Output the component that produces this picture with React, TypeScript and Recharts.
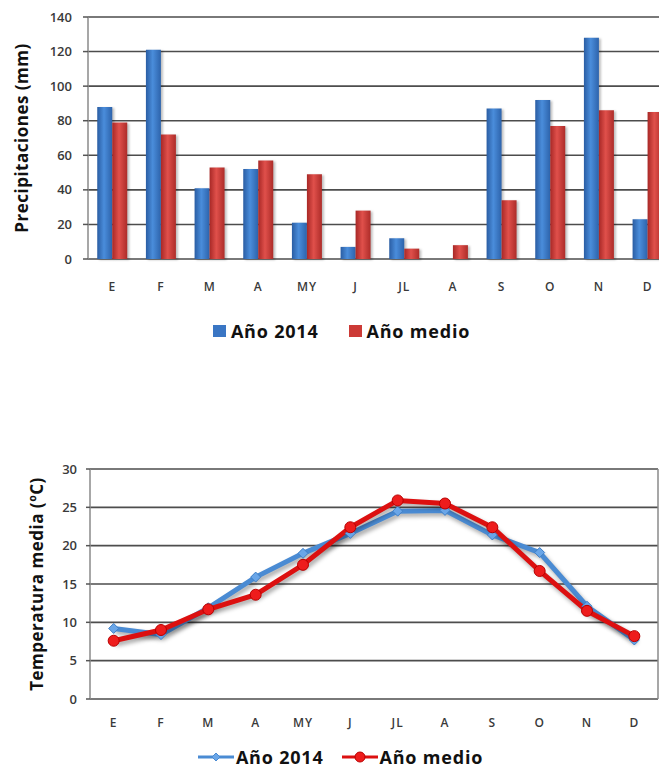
import React from "react";
import {
  Bar,
  BarChart,
  CartesianGrid,
  ComposedChart,
  Legend,
  Line,
  XAxis,
  YAxis,
} from "recharts";

const months = ["E", "F", "M", "A", "MY", "J", "JL", "A", "S", "O", "N", "D"];

const rain2014 = [88, 121, 41, 52, 21, 7, 12, 0, 87, 92, 128, 23];
const rainMedio = [79, 72, 53, 57, 49, 28, 6, 8, 34, 77, 86, 85];

const temp2014 = [9.2, 8.4, 11.9, 15.9, 19.0, 21.6, 24.5, 24.6, 21.4, 19.1, 12.1, 7.7];
const tempMedio = [7.6, 9.0, 11.7, 13.6, 17.5, 22.4, 25.9, 25.5, 22.4, 16.7, 11.5, 8.2];

const rainTicks = [0, 20, 40, 60, 80, 100, 120, 140];
const tempTicks = [0, 5, 10, 15, 20, 25, 30];
const edgeTicks = [0, 1, 2, 3, 4, 5, 6, 7, 8, 9, 10, 11, 12];

const rainData = months.map((m, i) => ({
  mes: m,
  a2014: rain2014[i],
  medio: rainMedio[i],
}));

const tempData = months.map((m, i) => ({
  mes: m,
  a2014: temp2014[i],
  medio: tempMedio[i],
}));

const FONT = "'Open Sans', sans-serif";
const GRID = "#4d4d4d";
const AXIS = "#8a8a8a";
const TEXT = "#3a3a3a";

const BLUE_BAR = "#3a76c4";
const RED_BAR = "#cc3a36";
const BLUE_LINE = "#4a8bd3";
const RED_LINE = "#dc1010";

// line chart: points sit in the middle of each month slot (568px plot / 24)
const TEMP_PAD = 568 / 24;

const legendColors: Record<string, string> = {
  a2014: BLUE_BAR,
  medio: RED_BAR,
};

const tickStyle = { fill: TEXT, fontSize: 13, fontWeight: 600, fontFamily: FONT };
const catTickStyle = {
  fill: TEXT,
  fontSize: 12,
  fontWeight: 600,
  fontFamily: FONT,
  letterSpacing: 1,
};

const legendText = {
  fontFamily: FONT,
  fontWeight: 700,
  fontSize: 18,
  letterSpacing: 0.8,
  color: "#111",
};

function BarLegend({ payload }: any) {
  return (
    <div style={{ display: "flex", justifyContent: "center", gap: 30, ...legendText }}>
      {(payload || []).map((p: any) => (
        <span key={p.dataKey} style={{ display: "flex", alignItems: "center" }}>
          <span
            style={{
              width: 13,
              height: 12,
              background: legendColors[p.dataKey],
              marginRight: 5,
            }}
          />
          {p.value}
        </span>
      ))}
    </div>
  );
}

function LineLegend({ payload }: any) {
  return (
    <div
      style={{
        display: "flex",
        justifyContent: "center",
        gap: 18,
        lineHeight: "18px",
        ...legendText,
      }}
    >
      {(payload || []).map((p: any) => {
        const blue = p.dataKey === "a2014";
        const c = blue ? BLUE_LINE : RED_LINE;
        return (
          <span key={p.dataKey} style={{ display: "flex", alignItems: "center" }}>
            <svg width={36} height={14} style={{ marginRight: 2 }}>
              <line x1={0} y1={7} x2={36} y2={7} stroke={c} strokeWidth={3} />
              {blue ? (
                <polygon points="18,3 22,7 18,11 14,7" fill="#6aa6e8" stroke={c} />
              ) : (
                <circle cx={18} cy={7} r={5} fill="#ee1c1c" stroke="#b00" />
              )}
            </svg>
            {p.value}
          </span>
        );
      })}
    </div>
  );
}

function DiamondDot({ cx, cy, index }: any) {
  if (cx == null || cy == null) return null;
  return (
    <polygon
      key={index}
      points={`${cx},${cy - 5} ${cx + 5},${cy} ${cx},${cy + 5} ${cx - 5},${cy}`}
      fill="#6aa6e8"
      stroke="#3f7fc6"
      strokeWidth={1}
    />
  );
}

const axisLabelStyle = {
  textAnchor: "middle",
  fontFamily: FONT,
  fontWeight: 700,
  fontSize: 17,
  letterSpacing: 0.5,
  fill: "#111",
};

export default function App() {
  return (
    <div
      style={{
        position: "relative",
        margin: -8,
        width: 667,
        height: 772,
        overflow: "hidden",
        background: "#fff",
      }}
    >
      <style>{`.temp .recharts-line { filter: drop-shadow(2px 3px 2px rgba(0,0,0,0.35)); }
.rain .recharts-bar-rectangle { filter: drop-shadow(2px 1px 1px rgba(0,0,0,0.25)); }`}</style>

      <div className="rain" style={{ position: "absolute", left: 0, top: 0 }}>
        <BarChart
          width={680}
          height={345}
          data={rainData}
          margin={{ top: 17, right: 8, left: 0, bottom: 46 }}
          barCategoryGap="19%"
          barGap={0}
        >
          <defs>
            <linearGradient id="gBlue" x1="0" y1="0" x2="1" y2="0">
              <stop offset="0%" stopColor="#2a5da3" />
              <stop offset="45%" stopColor="#4a8ddb" />
              <stop offset="100%" stopColor="#2d63ab" />
            </linearGradient>
            <linearGradient id="gRed" x1="0" y1="0" x2="1" y2="0">
              <stop offset="0%" stopColor="#a82826" />
              <stop offset="45%" stopColor="#e0504b" />
              <stop offset="100%" stopColor="#ad2c29" />
            </linearGradient>
          </defs>
          <CartesianGrid horizontal vertical={false} stroke={GRID} strokeWidth={1.6} />
          <XAxis
            xAxisId="edge"
            type="number"
            domain={[0, 12]}
            ticks={edgeTicks}
            height={0}
            tickSize={5}
            tickFormatter={() => ""}
            axisLine={{ stroke: AXIS, strokeWidth: 1.5 }}
            tickLine={{ stroke: "#555", strokeWidth: 1.5 }}
          />
          <XAxis
            dataKey="mes"
            height={40}
            axisLine={false}
            tickLine={false}
            tickMargin={17}
            tick={catTickStyle}
            interval={0}
          />
          <YAxis
            width={88}
            domain={[0, 140]}
            ticks={rainTicks}
            tickSize={5}
            tickMargin={11}
            tick={tickStyle}
            axisLine={{ stroke: AXIS, strokeWidth: 1.5 }}
            tickLine={{ stroke: "#555", strokeWidth: 1.5 }}
            label={{
              value: "Precipitaciones (mm)",
              angle: -90,
              position: "insideLeft",
              offset: 22,
              style: axisLabelStyle,
            }}
          />
          <Bar dataKey="a2014" name="Año 2014" fill="url(#gBlue)" isAnimationActive={false} />
          <Bar dataKey="medio" name="Año medio" fill="url(#gRed)" isAnimationActive={false} />
          <Legend
            verticalAlign="middle"
            align="center"
            layout="horizontal"
            content={<BarLegend />}
            wrapperStyle={{ top: 319, left: 8, width: 667 }}
          />
        </BarChart>
      </div>

      <div className="temp" style={{ position: "absolute", left: 0, top: 440 }}>
        <ComposedChart
          width={667}
          height={332}
          data={tempData}
          margin={{ top: 29, right: 0, left: 0, bottom: 33 }}
        >
          <CartesianGrid horizontal vertical={false} stroke={GRID} strokeWidth={1.6} />
          <XAxis
            xAxisId="edge"
            type="number"
            domain={[0, 12]}
            ticks={edgeTicks}
            height={0}
            tickSize={4}
            tickFormatter={() => ""}
            axisLine={{ stroke: AXIS, strokeWidth: 1.5 }}
            tickLine={{ stroke: "#555", strokeWidth: 1.5 }}
          />
          <XAxis
            dataKey="mes"
            height={40}
            padding={{ left: TEMP_PAD, right: TEMP_PAD }}
            axisLine={false}
            tickLine={false}
            tickMargin={13}
            tick={catTickStyle}
            interval={0}
          />
          <YAxis
            width={90}
            domain={[0, 30]}
            ticks={tempTicks}
            tickSize={4}
            tickMargin={9}
            tick={tickStyle}
            axisLine={{ stroke: AXIS, strokeWidth: 1.5 }}
            tickLine={{ stroke: "#555", strokeWidth: 1.5 }}
            label={{
              value: "Temperatura  media (ºC)",
              angle: -90,
              position: "insideLeft",
              offset: 37,
              style: axisLabelStyle,
            }}
          />
          <YAxis
            yAxisId="right"
            orientation="right"
            width={9}
            domain={[0, 30]}
            ticks={tempTicks}
            tickSize={4}
            tickFormatter={() => ""}
            axisLine={{ stroke: AXIS, strokeWidth: 1.5 }}
            tickLine={{ stroke: AXIS, strokeWidth: 1 }}
          />
          <Line
            dataKey="a2014"
            name="Año 2014"
            stroke={BLUE_LINE}
            strokeWidth={5}
            dot={<DiamondDot />}
            isAnimationActive={false}
          />
          <Line
            dataKey="medio"
            name="Año medio"
            stroke={RED_LINE}
            strokeWidth={5}
            dot={{ r: 5.5, fill: "#ee1c1c", stroke: "#b80000", strokeWidth: 1 }}
            isAnimationActive={false}
          />
          <Legend
            verticalAlign="middle"
            align="center"
            layout="horizontal"
            content={<LineLegend />}
            wrapperStyle={{ top: 308, left: 7, width: 667 }}
          />
        </ComposedChart>
      </div>
    </div>
  );
}
